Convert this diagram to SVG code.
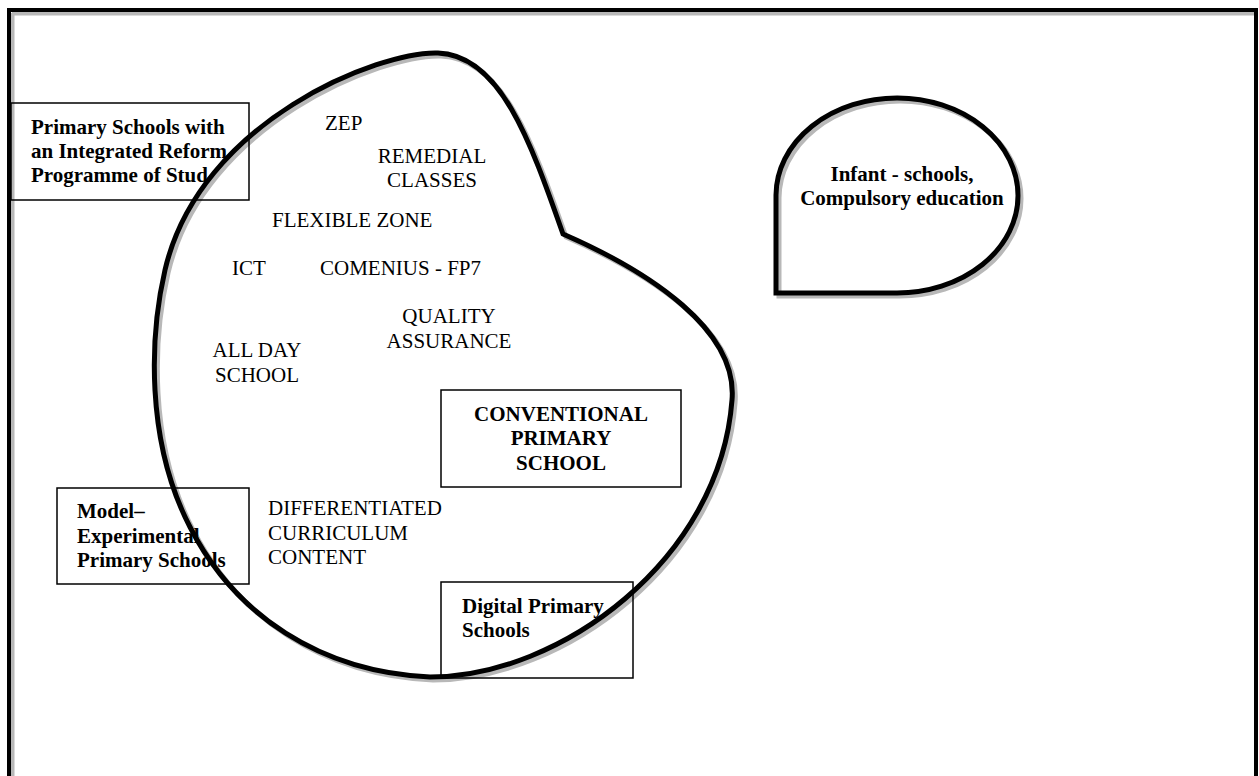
<svg xmlns="http://www.w3.org/2000/svg" width="1259" height="776" viewBox="0 0 1259 776">
<style>
.frame{fill:none;stroke:#000;stroke-width:4}
.shadow{fill:none;stroke:#b8b8b8;stroke-width:5}
.blob{fill:none;stroke:#000;stroke-width:5;stroke-linejoin:miter}
.box{fill:none;stroke:#000;stroke-width:1.5}
.t{font-family:"Liberation Serif","Times New Roman",serif;font-size:21px;fill:#000}
.b{font-family:"Liberation Serif","Times New Roman",serif;font-size:21px;font-weight:bold;fill:#000}
</style>
<defs>
<path id="blobPath" d="M563,234 C530,140 500,55 438,53 C380,51 200,120 165,270 C150,335 145,440 190,527 C235,615 320,672 430,677 C560,677 720,560 732,400 C738,330 650,272 563,234 Z"/>
<path id="infantPath" d="M776,293 L776,195 A121,97.5 0 1 1 897,293 Z"/>
</defs>
<rect width="1259" height="776" fill="#fff"/>
<g id="frame">
<path class="shadow" d="M12,13 L1254,13 M12,13 L12,776" stroke-width="3"/>
<path class="frame" d="M9,776 L9,10 L1256,10 L1256,776"/>
</g>
<g id="main-area">
<use href="#blobPath" class="shadow" transform="translate(3,3)"/>
<use href="#blobPath" class="blob"/>
</g>
<g id="infant">
<use href="#infantPath" class="shadow" transform="translate(3,3)"/>
<use href="#infantPath" class="blob"/>
<text class="b" text-anchor="middle" x="902" y="181">Infant - schools,</text>
<text class="b" text-anchor="middle" x="902" y="205">Compulsory education</text>
</g>
<g id="reform">
<rect class="box" x="11" y="103" width="238" height="97"/>
<text class="b" x="31" y="134">Primary Schools with</text>
<text class="b" x="31" y="158">an Integrated Reform</text>
<text class="b" x="31" y="182">Programme of Stud</text>
</g>
<g id="model">
<rect class="box" x="57" y="488" width="192" height="96"/>
<text class="b" x="77" y="518">Model–</text>
<text class="b" x="77" y="543">Experimental</text>
<text class="b" x="77" y="567">Primary Schools</text>
</g>
<g id="conventional">
<rect class="box" x="441" y="390" width="240" height="97"/>
<text class="b" text-anchor="middle" x="561" y="421">CONVENTIONAL</text>
<text class="b" text-anchor="middle" x="561" y="445">PRIMARY</text>
<text class="b" text-anchor="middle" x="561" y="470">SCHOOL</text>
</g>
<g id="digital">
<rect class="box" x="441" y="582" width="192" height="96"/>
<text class="b" x="462" y="613">Digital Primary</text>
<text class="b" x="462" y="637">Schools</text>
</g>
<g id="zep"><text class="t" x="325" y="130">ZEP</text></g>
<g id="remedial">
<text class="t" text-anchor="middle" x="432" y="163">REMEDIAL</text>
<text class="t" text-anchor="middle" x="432" y="187">CLASSES</text>
</g>
<g id="flexible"><text class="t" x="272" y="227">FLEXIBLE ZONE</text></g>
<g id="ict"><text class="t" x="232" y="275">ICT</text></g>
<g id="comenius"><text class="t" x="320" y="275">COMENIUS - FP7</text></g>
<g id="quality">
<text class="t" text-anchor="middle" x="449" y="323">QUALITY</text>
<text class="t" text-anchor="middle" x="449" y="348">ASSURANCE</text>
</g>
<g id="allday">
<text class="t" text-anchor="middle" x="257" y="357">ALL DAY</text>
<text class="t" text-anchor="middle" x="257" y="382">SCHOOL</text>
</g>
<g id="differentiated">
<text class="t" x="268" y="515">DIFFERENTIATED</text>
<text class="t" x="268" y="540">CURRICULUM</text>
<text class="t" x="268" y="564">CONTENT</text>
</g>
<g id="connectors"/>
</svg>
